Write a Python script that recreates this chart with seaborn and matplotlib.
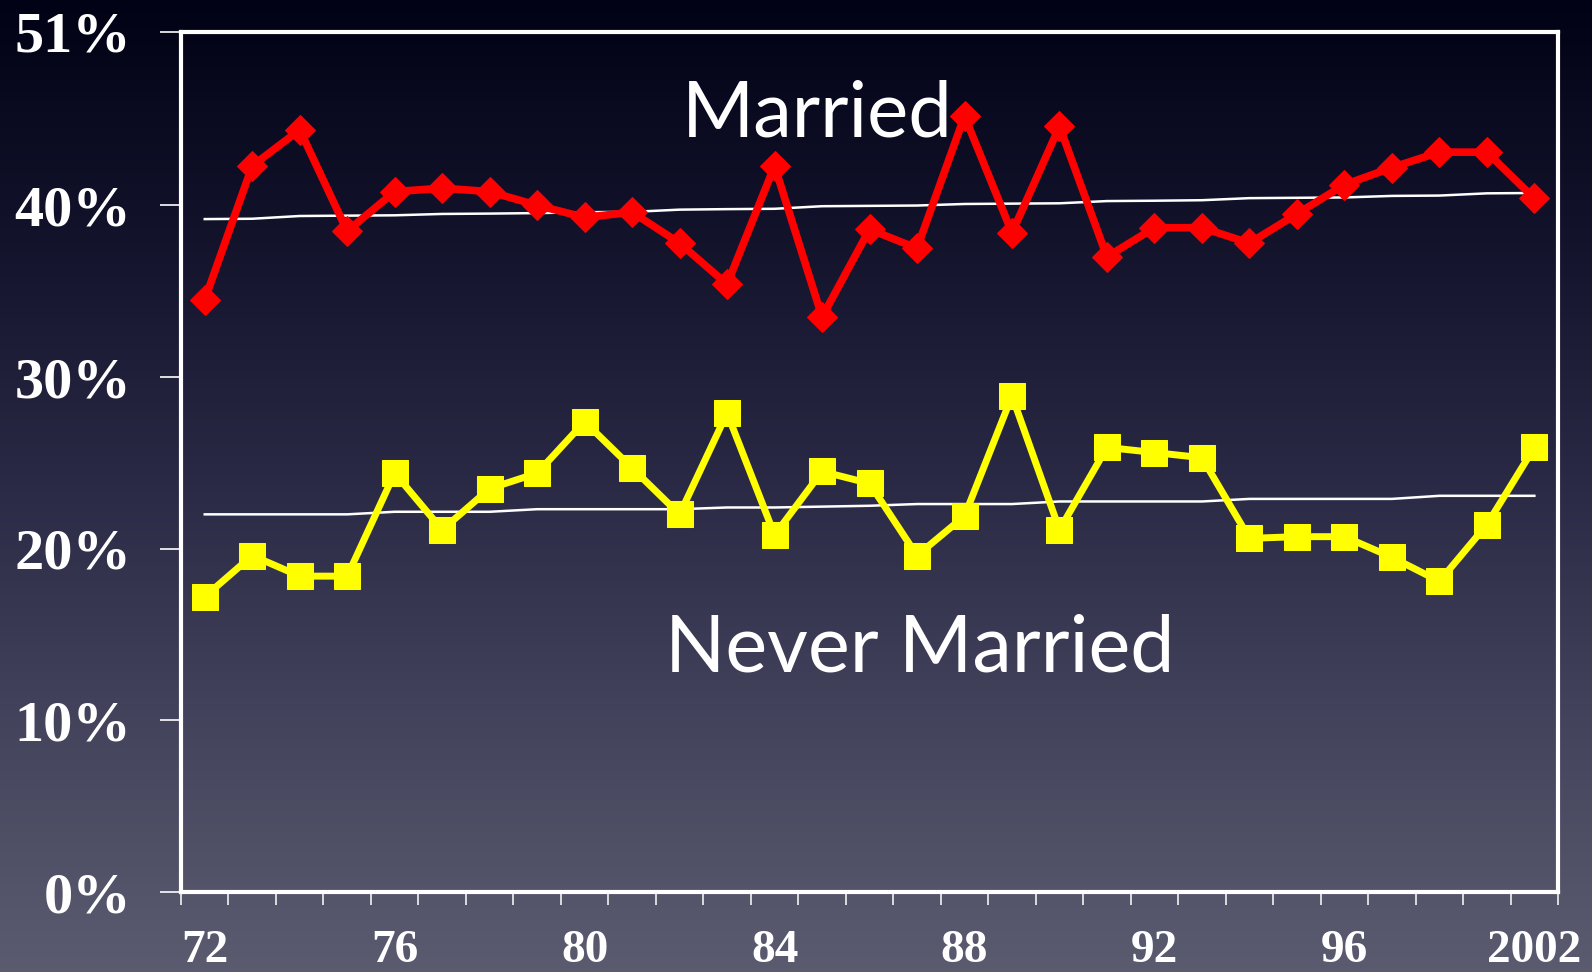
import numpy as np
import matplotlib
matplotlib.use("Agg")
import matplotlib.pyplot as plt
from matplotlib.colors import LinearSegmentedColormap
import seaborn as sns

# percent of respondents, one point per survey wave (72 .. 2002)
married = [34.5, 42.3, 44.4, 38.5, 40.8, 41.0, 40.8, 40.0, 39.3, 39.6,
           37.8, 35.4, 42.3, 33.5, 38.6, 37.5, 45.2, 38.4, 44.6, 37.0,
           38.7, 38.7, 37.8, 39.5, 41.2, 42.2, 43.1, 43.1, 40.4]
never_married = [17.2, 19.6, 18.4, 18.4, 24.4, 21.1, 23.5, 24.4, 27.4, 24.7,
                 22.0, 27.9, 20.8, 24.5, 23.8, 19.6, 21.9, 28.9, 21.1, 25.9,
                 25.6, 25.3, 20.6, 20.7, 20.7, 19.5, 18.1, 21.4, 25.9]
married_trend = [39.20, 39.22, 39.38, 39.40, 39.42, 39.50, 39.52, 39.55, 39.60, 39.62,
                 39.75, 39.78, 39.80, 39.95, 39.97, 39.99, 40.08, 40.10, 40.12, 40.25,
                 40.27, 40.30, 40.42, 40.44, 40.46, 40.55, 40.57, 40.70, 40.72]
never_trend = [22.00, 22.00, 22.00, 22.00, 22.15, 22.15, 22.15, 22.30, 22.30, 22.30,
               22.30, 22.40, 22.40, 22.45, 22.50, 22.60, 22.60, 22.60, 22.75, 22.75,
               22.75, 22.75, 22.90, 22.90, 22.90, 22.90, 23.08, 23.08, 23.08]

x_labels = ["72", "76", "80", "84", "88", "92", "96", "2002"]
y_ticks = [0, 10, 20, 30, 40, 50.1]
y_labels = ["0%", "10%", "20%", "30%", "40%", "51%"]

x = np.arange(len(married))

fig = plt.figure(figsize=(15.92, 9.72), dpi=100)

# slide background gradient
bg = fig.add_axes([0, 0, 1, 1], zorder=0)
cmap = LinearSegmentedColormap.from_list(
    "slide", ["#020216", "#13132c", "#2a2a46", "#44445d", "#5b5b70"])
bg.imshow(np.linspace(0, 1, 256).reshape(-1, 1), aspect="auto", cmap=cmap,
          extent=[0, 1, 0, 1], origin="upper")
bg.axis("off")

ax = fig.add_axes([0.1137, 0.0823, 0.865, 0.8848], zorder=1)
ax.set_facecolor("none")

sns.lineplot(x=x, y=married_trend, ax=ax, color="white", linewidth=1.8, zorder=2)
sns.lineplot(x=x, y=never_trend, ax=ax, color="white", linewidth=1.8, zorder=2)
sns.lineplot(x=x, y=married, ax=ax, color="#ff0000", linewidth=5.5,
             marker="D", markersize=15, markeredgecolor="#ff0000", zorder=3)
sns.lineplot(x=x, y=never_married, ax=ax, color="#ffff00", linewidth=5.0,
             marker="s", markersize=19, markeredgecolor="#ffff00", zorder=3)

ax.set_xlim(-0.5, len(married) - 0.5)
ax.set_ylim(0, 50.1)

for s in ax.spines.values():
    s.set_color("white")
    s.set_linewidth(3)

ax.set_yticks(y_ticks)
ax.set_yticklabels(y_labels)
ax.tick_params(axis="y", direction="out", length=15, width=1.2, color="white",
               pad=21, labelcolor="white")

ax.set_xticks(np.arange(0, len(married), 4))
ax.set_xticklabels(x_labels)
ax.set_xticks(np.arange(-0.5, len(married)), minor=True)
ax.tick_params(axis="x", which="major", length=0, pad=27, labelcolor="white")
ax.tick_params(axis="x", which="minor", direction="out", length=9, width=1.1,
               color="white")

for lab in ax.get_yticklabels():
    lab.set_fontfamily("Liberation Serif")
    lab.set_fontweight("bold")
    lab.set_fontsize(42)
for lab in ax.get_xticklabels():
    lab.set_fontfamily("Liberation Serif")
    lab.set_fontweight("bold")
    lab.set_fontsize(34)

ax.text(12.9, 45.25, "Married", color="white", fontsize=56, family="Lato",
        ha="center", va="center", zorder=4)
ax.text(15.05, 14.15, "Never Married", color="white", fontsize=57, family="Lato",
        ha="center", va="center", zorder=4)

fig.savefig("out.png", dpi=100)
